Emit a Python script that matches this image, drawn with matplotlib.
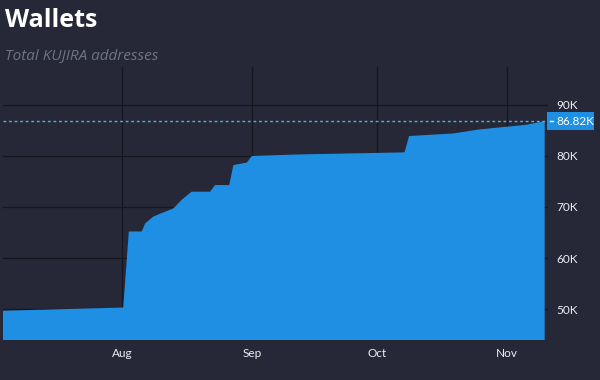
import matplotlib
matplotlib.use("Agg")
import matplotlib.pyplot as plt
import matplotlib.dates as mdates
from matplotlib.patches import Rectangle
from matplotlib.lines import Line2D
import pandas as pd

dates = ["2022-07-03 12:00", "2022-08-01 06:00", "2022-08-02 14:00", "2022-08-05 16:00",
         "2022-08-06 12:00", "2022-08-08 10:00", "2022-08-10 02:00", "2022-08-13 05:00",
         "2022-08-15 05:00", "2022-08-17 14:00", "2022-08-22 00:00", "2022-08-23 05:00",
         "2022-08-26 14:00", "2022-08-27 14:00", "2022-08-30 19:00", "2022-09-01 00:00",
         "2022-09-12 12:00", "2022-10-07 12:00", "2022-10-08 14:00", "2022-10-19 02:00",
         "2022-10-25 10:00", "2022-11-05 14:00", "2022-11-10 00:00"]
wallets = [49670, 50300, 65200, 65200, 66800, 68100, 68700, 69700, 71400, 73000, 73000,
           74300, 74300, 78200, 78700, 80000, 80300, 80700, 83900, 84400, 85200, 86100, 86820]
y_ticks = [50000, 60000, 70000, 80000, 90000]
y_tick_labels = ["50K", "60K", "70K", "80K", "90K"]
last_label = "86.82K"

BG = "#262838"
BLUE = "#1f8fe3"
GRID = "#15161f"
TXT = "#eceef4"
W, H = 600, 380

x = pd.to_datetime(dates)

fig = plt.figure(figsize=(6, 3.8), dpi=100, facecolor=BG)
ax = fig.add_axes([0.005, 0.105, 0.908, 0.719])
ax.set_facecolor(BG)
ax.fill_between(x, wallets, 0, color=BLUE, linewidth=0, zorder=2)

ax.set_xlim(x[0], pd.Timestamp("2022-11-10 18:00"))
ax.set_ylim(43920, 97450)

ax.set_yticks(y_ticks)
ax.set_yticklabels(y_tick_labels)
ax.yaxis.tick_right()
ax.xaxis.set_major_locator(mdates.MonthLocator())
ax.xaxis.set_major_formatter(mdates.DateFormatter("%b"))
ax.grid(True, color=GRID, linewidth=0.9, zorder=1)
ax.set_axisbelow(True)
ax.tick_params(axis="y", length=0, colors=TXT, labelsize=8.5, pad=6)
ax.tick_params(axis="x", length=0, colors=TXT, labelsize=8.5, pad=6)
for lab in ax.get_xticklabels() + ax.get_yticklabels():
    lab.set_fontfamily("Lato")
for s in ax.spines.values():
    s.set_visible(False)

ax.axhline(wallets[-1], color="#46b6dc", linewidth=1.0, linestyle=(0, (2, 2)), zorder=3)

# last value label
fig.canvas.draw()
_, ypix = ax.transData.transform((0, wallets[-1]))
yf = ypix / H
fig.patches.append(Rectangle((547 / W, yf - 9 / H), 47 / W, 18 / H,
                             transform=fig.transFigure, fc=BLUE, ec="none"))
fig.lines.append(Line2D([550 / W, 553 / W], [yf, yf], transform=fig.transFigure,
                        color="white", linewidth=1))
fig.text(556 / W, yf, last_label, fontsize=8.5, color="white", fontfamily="Lato",
         va="center", ha="left")

fig.text(0.008, 0.945, "Wallets", fontsize=18, fontweight="bold", color="white",
         fontfamily="Open Sans", va="center", ha="left")
fig.text(0.008, 0.855, "Total KUJIRA addresses", fontsize=11, fontstyle="italic",
         color="#707384", fontfamily="Open Sans", va="center", ha="left")

fig.savefig("out.png", dpi=100, facecolor=BG)
